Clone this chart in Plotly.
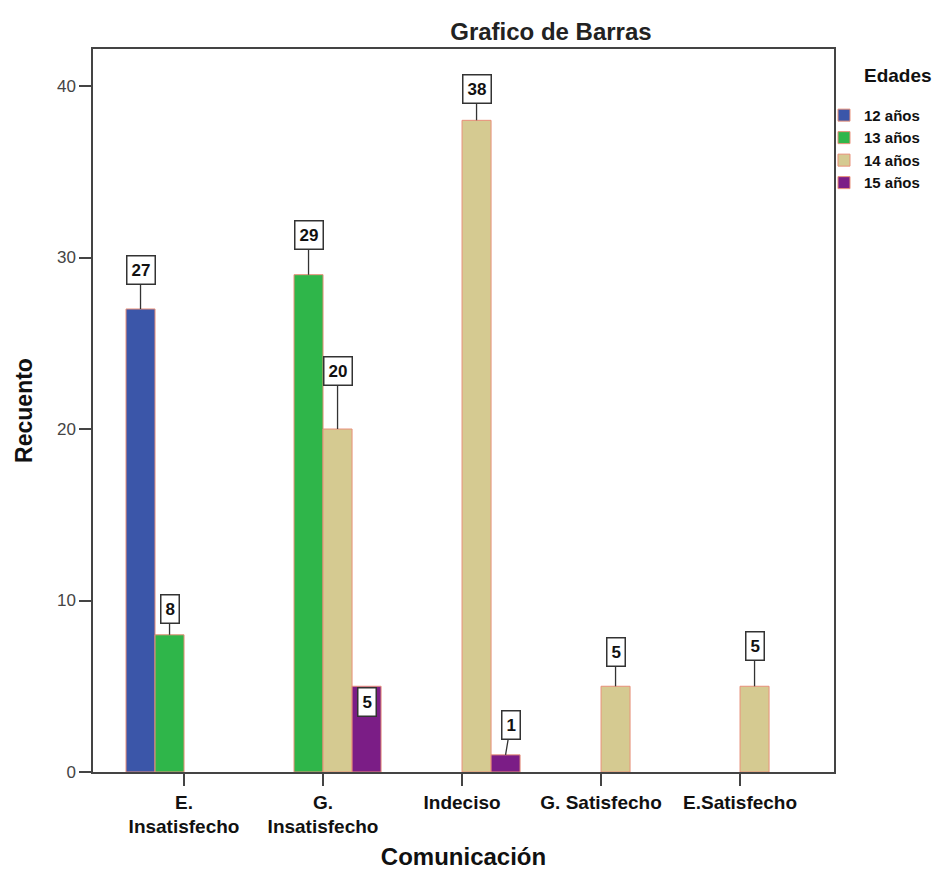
import plotly.graph_objects as go

# Datos
categorias = ['E.<br>Insatisfecho', 'G.<br>Insatisfecho', 'Indeciso',
              'G. Satisfecho', 'E.Satisfecho']
edades = ['12 años', '13 años', '14 años', '15 años']
n12 = [27, None, None, None, None]
n13 = [8, 29, None, None, None]
n14 = [None, 20, 38, 5, 5]
n15 = [None, 5, 1, None, None]

COLORES = ['#3B56A9', '#2FB64A', '#D5CA91', '#7B1D86']
BORDE = '#E8907A'
FONT = 'Arial, Liberation Sans, sans-serif'
BARGAP = 0.165

# desplazamiento de las etiquetas (ax, ay) en px, por (serie, categoria)
desplaz = {
    (0, 0): (0, -39), (1, 0): (0, -26),
    (1, 1): (0, -40), (2, 1): (0, -58), (3, 1): None,
    (2, 2): (0, -31), (3, 2): (5, -30),
    (2, 3): (0, -34), (2, 4): (0, -40),
}

series = [n12, n13, n14, n15]

fig = go.Figure()
for nombre, vals, color in zip(edades, series, COLORES):
    fig.add_trace(go.Bar(
        x=categorias, y=vals, name=f'<b>{nombre}</b>',
        marker=dict(color=color, line=dict(color=BORDE, width=1))))

# etiquetas con recuadro
ancho = (1 - BARGAP) / len(series)
anots = []
for s, vals in enumerate(series):
    for c, v in enumerate(vals):
        if v is None:
            continue
        xpos = c + (s - 1.5) * ancho
        base = dict(x=xpos, y=v, xref='x', yref='y', text=f'<b>{v}</b>',
                    font=dict(family=FONT, size=17, color='#111'),
                    bgcolor='white', bordercolor='#333', borderwidth=1.5,
                    borderpad=4)
        d = desplaz.get((s, c))
        if d is None:
            base.update(showarrow=False, yshift=-16)
        else:
            base.update(showarrow=True, arrowhead=0, arrowwidth=1.3,
                        arrowcolor='#333', ax=d[0], ay=d[1])
        anots.append(base)

# titulo de la leyenda
anots.append(dict(text='<b>Edades</b>', x=1.087, y=0.964, xref='paper', yref='paper',
                  xanchor='center', yanchor='middle', showarrow=False,
                  font=dict(family=FONT, size=19, color='#111')))

fig.update_layout(
    width=940, height=870,
    barmode='group', bargap=BARGAP, bargroupgap=0,
    margin=dict(l=85, r=114, t=41, b=106),
    plot_bgcolor='white', paper_bgcolor='white',
    font=dict(family=FONT, color='#111'),
    title=dict(text='<b>Grafico de Barras</b>', x=0.618, xref='paper',
               xanchor='center', y=1 - 24 / 870, yref='container',
               yanchor='middle', font=dict(size=24, color='#222')),
    annotations=anots,
    legend=dict(x=0.9865, xanchor='left', y=0.931, yanchor='top',
                font=dict(size=15, color='#111'), itemwidth=30,
                bgcolor='rgba(0,0,0,0)', traceorder='normal'),
    showlegend=True,
)

fig.update_xaxes(
    type='category', range=[-0.655, 4.676],
    showline=True, linecolor='#444', linewidth=1.5, mirror=True,
    ticks='outside', ticklen=12, tickcolor='#444', tickwidth=1.5,
    showgrid=False, zeroline=False, automargin=False,
    tickfont=dict(size=19, color='#111', family=FONT),
    tickvals=categorias,
    ticktext=[f'<b>{c}</b>' for c in categorias],
    title=dict(text='<b>Comunicación</b>', standoff=12,
               font=dict(size=24, color='#111')))

fig.update_yaxes(
    range=[0, 42.16], tickvals=[0, 10, 20, 30, 40],
    showline=True, linecolor='#444', linewidth=1.5, mirror=True,
    ticks='outside', ticklen=12, tickcolor='#444', tickwidth=1.5,
    showgrid=False, zeroline=False, automargin=False,
    tickfont=dict(size=17, color='#444'),
    title=dict(text='<b>Recuento</b>', standoff=18,
               font=dict(size=23, color='#111')))

fig.write_html('out.html')
